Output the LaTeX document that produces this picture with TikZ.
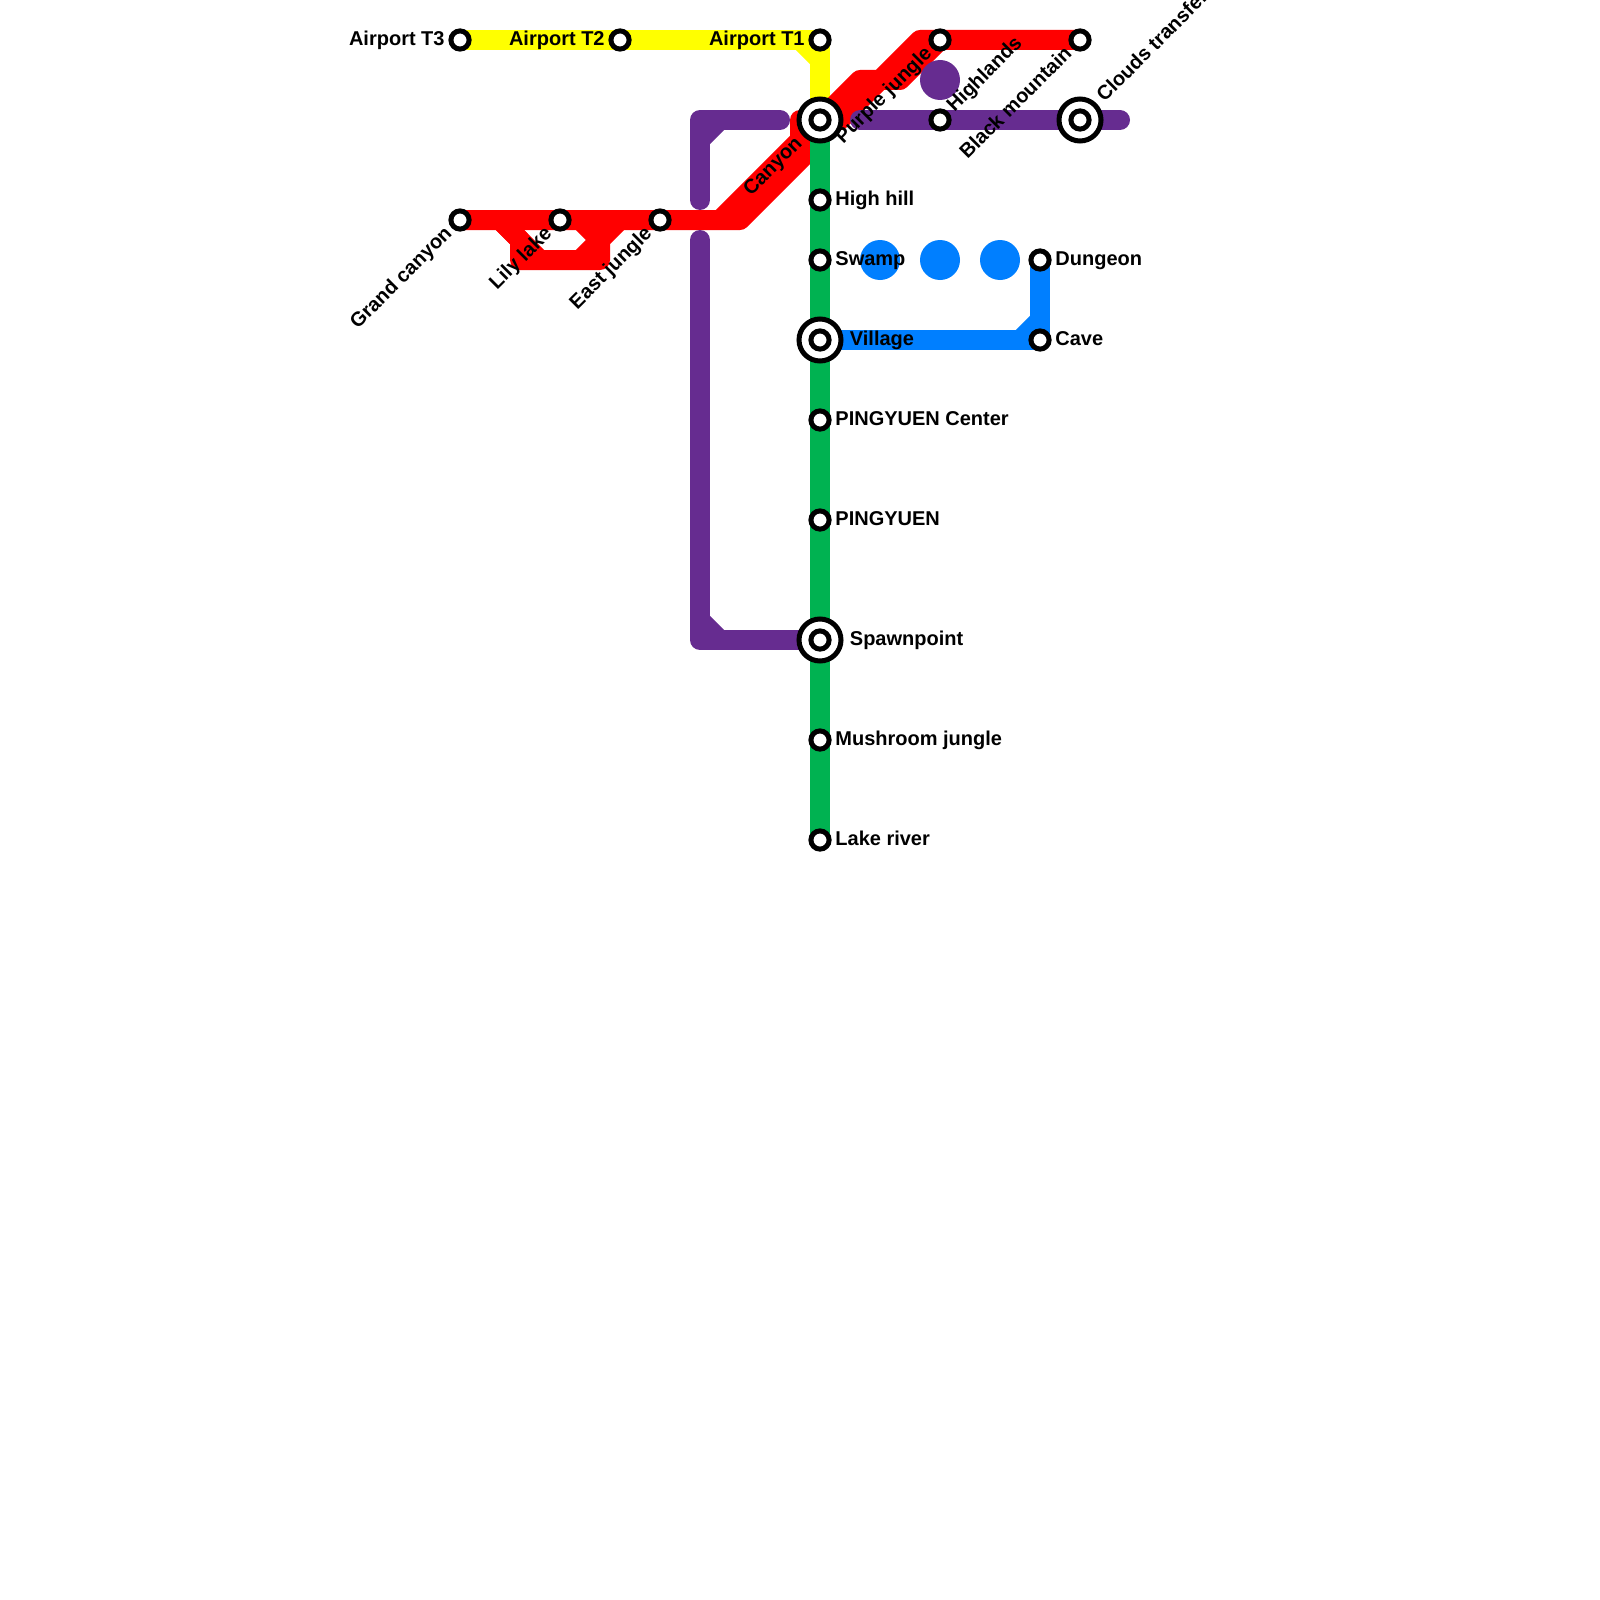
\documentclass[tikz,border=0pt]{standalone}
\usepackage{fontspec}
\setmainfont{Liberation Sans}
\usetikzlibrary{backgrounds}
\definecolor{linered}   {HTML}{FF0000}
\definecolor{lineyellow}{HTML}{FFFF00}
\definecolor{linegreen} {HTML}{00B251}
\definecolor{linepurple}{HTML}{662C90}
\definecolor{lineblue}  {HTML}{007FFF}
\tikzset{
  % --- stations
  stn/.style   = {circle, draw=black, fill=white, line width=2.5pt, minimum size=9.1pt, inner sep=0pt},
  hub/.style   = {circle, draw=black, fill=white, line width=2.5pt, minimum size=21pt, inner sep=0pt},
  dot/.style   = {circle, minimum size=20pt, inner sep=0pt},
  % --- labels
  lbl/.style   = {font=\bfseries\fontsize{10}{12}\selectfont, inner sep=0pt, text=black},
  lr/.style    = {lbl, anchor=mid west, xshift=7.5pt},
  lrhub/.style = {lbl, anchor=mid west, xshift=14.75pt},
  ll/.style    = {lbl, anchor=mid east, xshift=-7.5pt},
  lsw/.style   = {lbl, anchor=mid east, rotate=45, xshift=-7.5pt},
  lne/.style   = {lbl, anchor=mid west, rotate=45, xshift=7.5pt},
  % --- lines
  ln/.style    = {line width=10pt, line join=round},
  ry/.style    = {ln, draw=lineyellow},
  rr/.style    = {ln, draw=linered},
  rg/.style    = {ln, draw=linegreen},
  rp/.style    = {ln, draw=linepurple, line cap=round},
  rpb/.style   = {ln, draw=linepurple},
  rb/.style    = {ln, draw=lineblue},
}
\begin{document}
\begin{tikzpicture}[x=0.5pt,y=-0.5pt]
  \useasboundingbox (0,0) rectangle (1600,1600);
  % stations
  \node[stn] (t3) at (460,40) {};
  \node[stn] (t2) at (620,40) {};
  \node[stn] (t1) at (820,40) {};
  \node[stn] (grand) at (460,220) {};
  \node[stn] (lily) at (560,220) {};
  \node[stn] (east) at (660,220) {};
  \node[stn] (pjungle) at (940,40) {};
  \node[stn] (black) at (1080,40) {};
  \node[stn] (high) at (940,120) {};
  \node[stn] (hill) at (820,200) {};
  \node[stn] (swamp) at (820,260) {};
  \node[stn] (center) at (820,420) {};
  \node[stn] (ping) at (820,520) {};
  \node[stn] (mush) at (820,740) {};
  \node[stn] (lake) at (820,840) {};
  \node[stn] (dung) at (1040,260) {};
  \node[stn] (cave) at (1040,340) {};
  \node[hub] (canyon) at (820,120) {};
  \node[hub] (village) at (820,340) {};
  \node[hub] (spawn) at (820,640) {};
  \node[hub] (clouds) at (1080,120) {};
  \node[stn] (canyoni) at (canyon) {};
  \node[stn] (villagei) at (village) {};
  \node[stn] (spawni) at (spawn) {};
  \node[stn] (cloudsi) at (clouds) {};
  % labels
  \node[ll] (lt3) at (t3) {Airport T3};
  \node[ll] (lt2) at (t2) {Airport T2};
  \node[ll] (lt1) at (t1) {Airport T1};
  \node[lr] (lhill) at (hill) {High hill};
  \node[lr] (lswamp) at (swamp) {Swamp};
  \node[lrhub] (lvillage) at (village) {Village};
  \node[lr] (lcenter) at (center) {PINGYUEN Center};
  \node[lr] (lping) at (ping) {PINGYUEN};
  \node[lrhub] (lspawn) at (spawn) {Spawnpoint};
  \node[lr] (lmush) at (mush) {Mushroom jungle};
  \node[lr] (llake) at (lake) {Lake river};
  \node[lr] (ldung) at (dung) {Dungeon};
  \node[lr] (lcave) at (cave) {Cave};
  \node[lsw] (lgrand) at (grand) {Grand canyon};
  \node[lsw] (llily) at (lily) {Lily lake};
  \node[lsw] (least) at (east) {East jungle};
  \node[lsw,xshift=-7pt] (lcanyon) at (canyon) {Canyon};
  \node[lsw] (lpjungle) at (pjungle) {Purple jungle};
  \node[lsw] (lblack) at (black) {Black mountain};
  \node[lne] (lhigh) at (high) {Highlands};
  \node[lne,xshift=7pt] (lclouds) at (clouds) {Clouds transfer};
  % bends
  \coordinate (a1) at (500,220);
  \coordinate (a2) at (520,240);
  \coordinate (a3) at (520,260);
  \coordinate (a4) at (540,260);
  \coordinate (a5) at (580,260);
  \coordinate (a6) at (600,260);
  \coordinate (a7) at (600,240);
  \coordinate (a8) at (620,220);
  \coordinate (a9) at (580,220);
  \coordinate (b1) at (720,220);
  \coordinate (b2) at (800,140);
  \coordinate (b3) at (800,120);
  \coordinate (b4) at (740,220);
  \coordinate (b5) at (820,140);
  \coordinate (c1) at (860,80);
  \coordinate (c2) at (880,80);
  \coordinate (c3) at (920,40);
  \coordinate (c4) at (840,120);
  \coordinate (c5) at (900,80);
  \coordinate (y1) at (800,40);
  \coordinate (y2) at (820,60);
  \coordinate (p1) at (700,200);
  \coordinate (p2) at (700,120);
  \coordinate (p3) at (780,120);
  \coordinate (p4) at (700,140);
  \coordinate (p5) at (720,120);
  \coordinate (q1) at (700,240);
  \coordinate (q2) at (700,640);
  \coordinate (q3) at (700,620);
  \coordinate (q4) at (720,640);
  \coordinate (r1) at (860,120);
  \coordinate (r2) at (1120,120);
  \coordinate (s1) at (1020,340);
  \coordinate (s2) at (1040,320);
  \begin{pgfonlayer}{background}
    \draw[ry] (t3.center) -- (t1.center) -- (canyon.center);
    \draw[ry] (y1) -- (y2);
    \draw[rr] (grand.center) -- (b4) -- (b5) -- (canyon.center);
    \draw[rr] (b1) -- (b2) -- (b3) -- (canyon.center) -- (c1) -- (c2) -- (c3) -- (black.center);
    \draw[rr] (canyon.center) -- (c4) -- (c2) -- (c5) -- (pjungle.center);
    \draw[rr] (a1) -- (a2) -- (a3) -- (a6) -- (a7) -- (a8);
    \draw[rr] (a1) -- (a4);
    \draw[rr] (a5) -- (a7) -- (a9);
    \draw[rp] (p1) -- (p2) -- (p3);
    \draw[rpb] (p4) -- (p5);
    \draw[rp] (q1) -- (q2) -- (spawn.center);
    \draw[rpb] (q3) -- (q4);
    \draw[rp] (r1) -- (high.center) -- (clouds.center) -- (r2);
    \draw[rb] (village.center) -- (cave.center) -- (dung.center);
    \draw[rb] (s1) -- (s2);
    \draw[rg] (canyon.center) -- (lake.center);
    \node[dot,fill=linepurple] (dotp) at (940,80) {};
    \node[dot,fill=lineblue] (dot1) at (880,260) {};
    \node[dot,fill=lineblue] (dot2) at (940,260) {};
    \node[dot,fill=lineblue] (dot3) at (1000,260) {};
  \end{pgfonlayer}
\end{tikzpicture}
\end{document}
